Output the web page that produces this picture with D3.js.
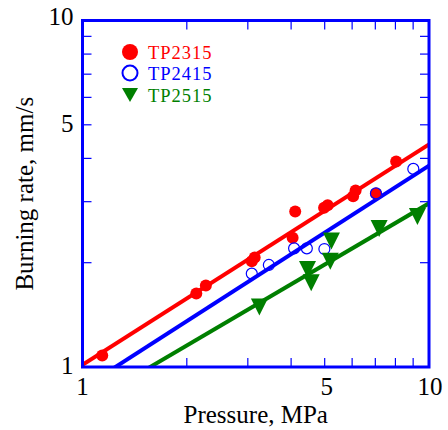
<!DOCTYPE html>
<html>
<head>
<meta charset="utf-8">
<script src="https://cdn.jsdelivr.net/npm/d3@7"></script>
<style>
  body { margin: 0; background: #fff; }
  svg text { font-family: "Times New Roman", "Liberation Serif", serif; }
</style>
</head>
<body>
<svg id="chart" width="448" height="430"></svg>
<script>
// pressure (MPa) / burning rate (mm/s)
const tp2315P = [1.14, 2.13, 2.27, 3.08, 3.14, 4.04, 4.11, 4.98, 5.10, 6.04, 6.14, 7.03, 8.04];
const tp2315R = [1.08, 1.63, 1.72, 2.02, 2.07, 2.36, 2.81, 2.88, 2.93, 3.11, 3.23, 3.17, 3.92];
const tp2415P = [3.08, 3.45, 4.08, 4.44, 4.99, 7.03, 9.01];
const tp2415R = [1.86, 1.97, 2.20, 2.20, 2.19, 3.17, 3.73];
const tp2515P = [3.24, 4.46, 4.57, 5.19, 5.23, 7.18, 9.26];
const tp2515R = [1.49, 1.91, 1.75, 2.02, 2.31, 2.51, 2.72];

// fitted lines r = a * P^n
const seriesNames = ["TP2315", "TP2415", "TP2515"];
const fitA = [1.015, 0.869, 0.768];
const fitN = [0.636, 0.642, 0.587];

const xTickLabels = [1, 5, 10];
const yTickLabels = [1, 5, 10];
const minorTicks = [2, 3, 4, 5, 6, 7, 8, 9];

const red = "#ff0000", blue = "#0000ff", green = "#007f00";

const svg = d3.select("#chart");
const dims = { left: 82.5, right: 429, top: 20.5, bottom: 367 };

const x = d3.scaleLog().domain([1, 10]).range([dims.left, dims.right]);
const y = d3.scaleLog().domain([1, 10]).range([dims.bottom, dims.top]);

svg.append("clipPath").attr("id", "plotclip")
  .append("rect")
  .attr("x", dims.left).attr("y", dims.top)
  .attr("width", dims.right - dims.left).attr("height", dims.bottom - dims.top);

// inside ticks on all four sides
const tl = 9;
const tickG = svg.append("g").attr("stroke", blue).attr("stroke-width", 1.2);
minorTicks.forEach(v => {
  tickG.append("line").attr("x1", x(v)).attr("x2", x(v)).attr("y1", dims.bottom).attr("y2", dims.bottom - tl);
  tickG.append("line").attr("x1", x(v)).attr("x2", x(v)).attr("y1", dims.top).attr("y2", dims.top + tl);
  tickG.append("line").attr("y1", y(v)).attr("y2", y(v)).attr("x1", dims.left).attr("x2", dims.left + tl);
  tickG.append("line").attr("y1", y(v)).attr("y2", y(v)).attr("x1", dims.right).attr("x2", dims.right - tl);
});

// fit lines
const colors = [red, blue, green];
const lineG = svg.append("g").attr("clip-path", "url(#plotclip)");
fitA.forEach((a, i) => {
  const pts = [1, 10].map(p => [x(p), y(a * Math.pow(p, fitN[i]))]);
  lineG.append("path")
    .attr("d", d3.line()(pts))
    .attr("fill", "none")
    .attr("stroke", colors[i])
    .attr("stroke-width", 4);
});

// points
svg.append("g").selectAll("circle")
  .data(d3.zip(tp2315P, tp2315R))
  .join("circle")
  .attr("cx", d => x(d[0])).attr("cy", d => y(d[1]))
  .attr("r", 6).attr("fill", red);

svg.append("g").selectAll("circle")
  .data(d3.zip(tp2415P, tp2415R))
  .join("circle")
  .attr("cx", d => x(d[0])).attr("cy", d => y(d[1]))
  .attr("r", 5.5).attr("fill", "none")
  .attr("stroke", blue).attr("stroke-width", 1.2);

const tri = (w, h) => `M${-w / 2},${-h / 2}L${w / 2},${-h / 2}L0,${h / 2}Z`;
svg.append("g").selectAll("path")
  .data(d3.zip(tp2515P, tp2515R))
  .join("path")
  .attr("transform", d => `translate(${x(d[0])},${y(d[1])})`)
  .attr("d", tri(17, 17))
  .attr("fill", green);

// frame
svg.append("rect")
  .attr("x", dims.left).attr("y", dims.top)
  .attr("width", dims.right - dims.left).attr("height", dims.bottom - dims.top)
  .attr("fill", "none").attr("stroke", blue).attr("stroke-width", 3);

// tick labels
svg.append("g").selectAll("text")
  .data(xTickLabels)
  .join("text")
  .attr("x", d => x(d) + (d === 5 ? 2 : d === 10 ? 1 : 0))
  .attr("y", 395)
  .attr("text-anchor", "middle")
  .attr("font-size", 25)
  .text(d => d);

svg.append("g").selectAll("text")
  .data(yTickLabels)
  .join("text")
  .attr("x", 73.5)
  .attr("y", d => y(d) + (d === 10 ? 4.5 : 7))
  .attr("text-anchor", "end")
  .attr("font-size", 25)
  .text(d => d);

// axis titles
svg.append("text")
  .attr("x", (dims.left + dims.right) / 2)
  .attr("y", 423)
  .attr("text-anchor", "middle")
  .attr("font-size", 25)
  .text("Pressure, MPa");

svg.append("text")
  .attr("transform", `translate(33,${(dims.top + dims.bottom) / 2}) rotate(-90)`)
  .attr("text-anchor", "middle")
  .attr("font-size", 25)
  .text("Burning rate, mm/s");

// legend
const legY = [52, 73, 95];
const leg = svg.append("g");
leg.append("circle").attr("cx", 130).attr("cy", legY[0]).attr("r", 8).attr("fill", red);
leg.append("circle").attr("cx", 130).attr("cy", legY[1]).attr("r", 7.5)
  .attr("fill", "none").attr("stroke", blue).attr("stroke-width", 2);
leg.append("path").attr("transform", `translate(130,${legY[2]})`).attr("d", tri(16, 14)).attr("fill", green);
seriesNames.forEach((name, i) => {
  leg.append("text")
    .attr("x", 148).attr("y", legY[i] + 7)
    .attr("font-size", 18.5)
    .attr("letter-spacing", 1)
    .attr("fill", colors[i])
    .text(name);
});
</script>
</body>
</html>
